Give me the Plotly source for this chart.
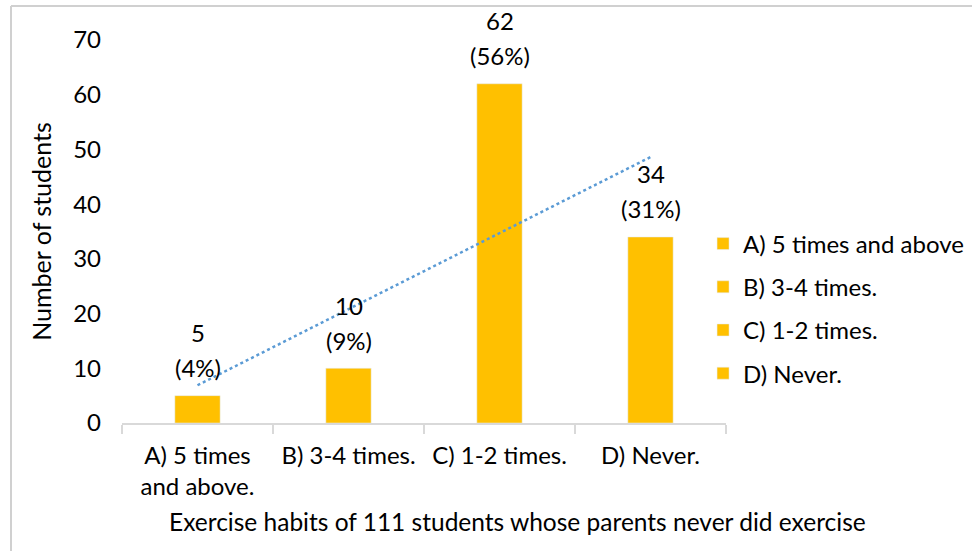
import plotly.graph_objects as go
import numpy as np

categories = ["A) 5 times and above.", "B) 3-4 times.", "C) 1-2 times.", "D) Never."]
tick_labels = ["A) 5 times<br>and above.", "B) 3-4 times.", "C) 1-2 times.", "D) Never."]
legend_names = ["A) 5 times and above", "B) 3-4 times.", "C) 1-2 times.", "D) Never."]
counts = [5, 10, 62, 34]
percents = ["(4%)", "(9%)", "(56%)", "(31%)"]
x_title = "Exercise habits of 111 students whose parents never did exercise"
y_title = "Number of students"

BAR = "#FFC000"
FONT = "Lato, Carlito, 'Liberation Sans', sans-serif"
TXT = "#000000"
FS = 24

fig = go.Figure()
for i, (cat, n, name) in enumerate(zip(categories, counts, legend_names)):
    fig.add_trace(go.Bar(
        x=[cat], y=[n], name=name, marker_color=BAR, width=0.3,
        legendgroup=f"g{i}", hoverinfo="skip",
    ))

# linear trendline fitted to counts
xi = np.arange(1, len(counts) + 1)
slope, intercept = np.polyfit(xi, counts, 1)
trend = slope * xi + intercept
fig.add_trace(go.Scatter(
    x=categories, y=trend, mode="lines",
    line=dict(color="#5B9BD5", width=2.5, dash="dot"),
    showlegend=False, hoverinfo="skip",
))

for cat, n, p in zip(categories, counts, percents):
    fig.add_annotation(x=cat, y=n, text=str(n), showarrow=False, yshift=63,
                       font=dict(size=FS, color=TXT, family=FONT))
    fig.add_annotation(x=cat, y=n, text=p, showarrow=False, yshift=28,
                       font=dict(size=FS, color=TXT, family=FONT))

# x-axis title (centred on the chart area, as in the original)
fig.add_annotation(xref="paper", yref="paper", x=(517 - 122) / 604, y=(423 - 521) / 383,
                   xanchor="center", yanchor="middle", showarrow=False, text=x_title,
                   font=dict(size=24.5, color=TXT, family=FONT))

# outer frame (left and top edges visible)
x_left = (11 - 122) / 604
y_top = (423 - 6) / 383
fig.add_shape(type="line", xref="paper", yref="paper",
              x0=x_left, x1=x_left, y0=-1.0, y1=y_top,
              line=dict(color="#D0D0D0", width=2))
fig.add_shape(type="line", xref="paper", yref="paper",
              x0=x_left, x1=1.45, y0=y_top, y1=y_top,
              line=dict(color="#D0D0D0", width=2))

fig.update_layout(
    width=972, height=551,
    margin=dict(l=122, r=246, t=40, b=128, autoexpand=False),
    paper_bgcolor="white", plot_bgcolor="white",
    barmode="overlay",
    font=dict(family=FONT, size=FS, color=TXT),
    showlegend=True,
    legend=dict(x=0.962, y=0.299, xanchor="left", yanchor="middle",
                traceorder="grouped", tracegroupgap=9,
                font=dict(size=FS, color=TXT, family=FONT),
                itemwidth=30, bgcolor="rgba(0,0,0,0)"),
    xaxis=dict(
        type="category", categoryorder="array", categoryarray=categories,
        tickvals=categories, ticktext=tick_labels,
        showline=True, linecolor="#D9D9D9", linewidth=2,
        ticks="outside", tickson="boundaries", ticklen=9, tickcolor="#D9D9D9", tickwidth=2,
        ticklabelstandoff=10,
        showgrid=False, zeroline=False,
        tickfont=dict(size=FS, color=TXT, family=FONT),
        range=[-0.5, 3.5],
    ),
    yaxis=dict(
        range=[0, 70], dtick=10, showgrid=False, zeroline=False, showline=False,
        ticks="", ticklabelstandoff=20,
        tickfont=dict(size=FS, color=TXT, family=FONT),
        title=dict(text=y_title, standoff=14,
                   font=dict(size=25, color=TXT, family=FONT)),
    ),
)

fig.write_html("out.html")
